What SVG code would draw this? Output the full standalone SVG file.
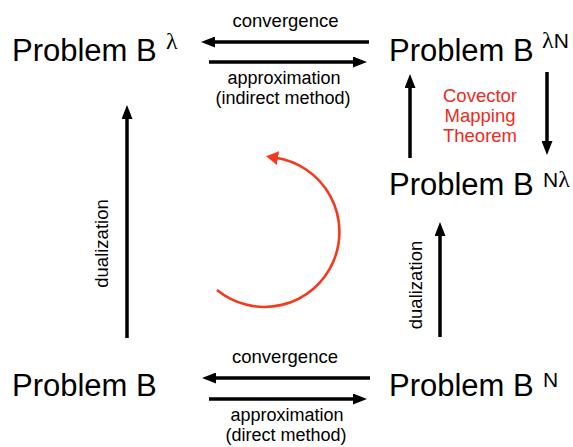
<svg xmlns="http://www.w3.org/2000/svg" width="573" height="447" viewBox="0 0 573 447">
  <style>
    .node { font-family: "Liberation Sans", Arial, sans-serif; font-size: 31px; fill: #000; }
    .sup { font-family: "Liberation Sans", Arial, sans-serif; font-size: 21px; fill: #000; }
    .lam { font-family: "Liberation Serif", "Times New Roman", serif; font-size: 24px; }
    .lbl { font-family: "Liberation Sans", Arial, sans-serif; font-size: 18.5px; fill: #000; text-anchor: middle; }
    .sub { font-family: "Liberation Sans", Arial, sans-serif; font-size: 18px; fill: #000; text-anchor: middle; }
    .red { font-family: "Liberation Sans", Arial, sans-serif; font-size: 18.5px; fill: #ee2a22; text-anchor: middle; }
    .conn { stroke: #000; stroke-width: 3.5; fill: none; marker-end: url(#ah); }
    .cycle { stroke: #f5391a; stroke-width: 2.6; fill: none; marker-end: url(#rh); }
  </style>
  <defs>
    <marker id="ah" markerUnits="userSpaceOnUse" markerWidth="14" markerHeight="11" refX="4" refY="5.5" orient="auto">
      <path d="M0,0 L14,5.5 L0,11 z" fill="#000"/>
    </marker>
    <marker id="rh" markerUnits="userSpaceOnUse" markerWidth="12" markerHeight="14" refX="2" refY="7" orient="auto">
      <path d="M0,0 L12,7 L0,14 z" fill="#f5391a"/>
    </marker>
  </defs>
  <rect width="573" height="447" fill="#fff"/>

  <g id="connectors">
    <line class="conn" x1="369" y1="42" x2="211" y2="42"/>
    <line class="conn" x1="209" y1="62" x2="357" y2="62"/>
    <line class="conn" x1="370" y1="378" x2="212" y2="378"/>
    <line class="conn" x1="209" y1="399" x2="357" y2="399"/>
    <line class="conn" x1="127" y1="338" x2="127" y2="115"/>
    <line class="conn" x1="440" y1="337" x2="440" y2="232"/>
    <line class="conn" x1="410" y1="158" x2="410" y2="84"/>
    <line class="conn" x1="547" y1="72" x2="547" y2="145"/>
    <path class="cycle" d="M217,290 A75,75 0 1 0 276,157.8"/>
  </g>

  <g id="labels">
    <text class="lbl" x="285.5" y="27">convergence</text>
    <text class="sub" x="284" y="84">approximation</text>
    <text class="sub" x="283" y="104">(indirect method)</text>
    <text class="lbl" x="285" y="363">convergence</text>
    <text class="sub" x="287" y="421">approximation</text>
    <text class="sub" x="286" y="441">(direct method)</text>
    <text class="lbl" transform="translate(108,243.5) rotate(-90)">dualization</text>
    <text class="lbl" transform="translate(422,285) rotate(-90)">dualization</text>
    <g id="covector-label">
      <text class="red" x="480" y="102">Covector</text>
      <text class="red" x="480" y="122">Mapping</text>
      <text class="red" x="480" y="142">Theorem</text>
    </g>
  </g>

  <g id="node-B-lambda">
    <text class="node" x="12" y="61">Problem B</text>
    <text class="sup" x="166" y="49"><tspan class="lam">λ</tspan></text>
  </g>
  <g id="node-B-lambdaN">
    <text class="node" x="389" y="61">Problem B</text>
    <text class="sup" x="542" y="48"><tspan class="lam">λ</tspan>N</text>
  </g>
  <g id="node-B-Nlambda">
    <text class="node" x="389" y="195">Problem B</text>
    <text class="sup" x="543" y="187">N<tspan class="lam">λ</tspan></text>
  </g>
  <g id="node-B">
    <text class="node" x="12" y="396">Problem B</text>
  </g>
  <g id="node-B-N">
    <text class="node" x="389" y="396">Problem B</text>
    <text class="sup" x="543" y="387">N</text>
  </g>
</svg>
